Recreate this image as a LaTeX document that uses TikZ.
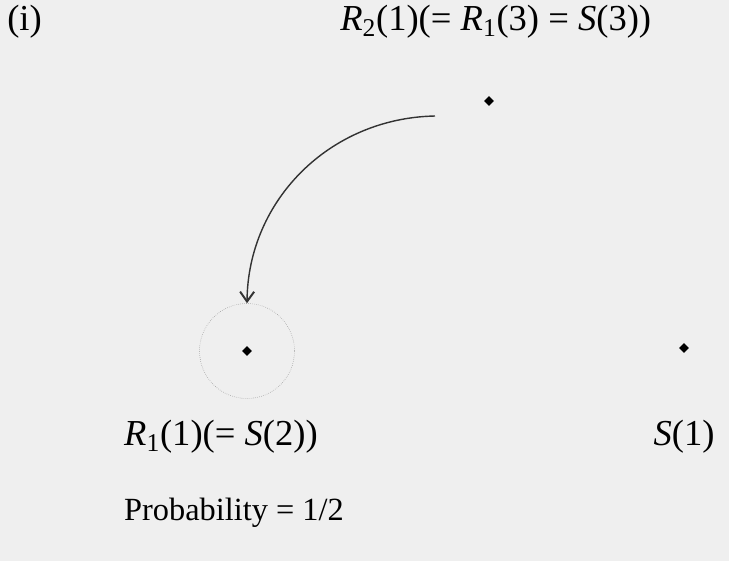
\documentclass[tikz,border=0pt]{standalone}
\usepackage{fontspec}
\setmainfont{Liberation Serif}
\usetikzlibrary{arrows.meta,shapes.geometric}
\definecolor{paper}{RGB}{239,239,239}
\begin{document}
\begin{tikzpicture}[x=0.025cm, y=-0.025cm, font=\fontsize{23}{27}\selectfont,
    site/.style={diamond, fill=black, inner sep=0pt, minimum size=7pt},
    lbl/.style={inner sep=0pt, font=\fontsize{26}{30}\selectfont}]
  % Background
  \fill[paper] (0,0) rectangle (729,561);
  \useasboundingbox (0,0) rectangle (729,561);
  % Panel tag
  \node[lbl, anchor=west] (tag) at (7,22) {(i)};
  % Points
  \node[site] (top) at (489,101) {};
  \node[site] (mid) at (247,351) {};
  \node[site] (rgt) at (684,348) {};
  % Neighbourhood of the chosen point
  \node[circle, draw=gray!80, densely dotted, inner sep=0pt, minimum size=2.375cm] (ring) at (mid) {};
  % Labels
  \node[lbl, anchor=west] (toplbl) at (340,22)
    {\textit{R}\textsubscript{2}(1)(= \textit{R}\textsubscript{1}(3) = \textit{S}(3))};
  \node[lbl, anchor=east] (midlbl) at (318,437) {\textit{R}\textsubscript{1}(1)(= \textit{S}(2))};
  \node[lbl] (rgtlbl) at (684,437) {\textit{S}(1)};
  \node[anchor=west, inner sep=0pt] (prob) at (midlbl.west |- 0,513) {Probability = 1/2};
  % Move
  \coordinate (start) at (435,116);
  \draw[line width=1pt, black!80, -{Straight Barb[length=7pt, width=10pt, line width=1.4pt]}]
    (start) .. controls (330,118) and (248,200) .. (ring.north);
\end{tikzpicture}
\end{document}
